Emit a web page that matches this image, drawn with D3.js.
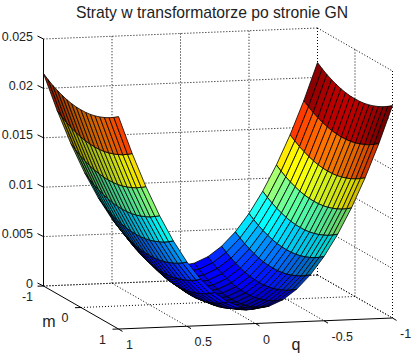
<!DOCTYPE html>
<html><head><meta charset="utf-8">
<script src="https://cdn.jsdelivr.net/npm/d3@7"></script>
<style>html,body{margin:0;padding:0;background:#fff}svg{display:block}text{font-family:"Liberation Sans",Arial,sans-serif;fill:#222}</style>
</head><body><svg id="c" width="416" height="359"></svg>
<script>
const titleText = "Straty w transformatorze po stronie GN";
const qValues = [-1,-0.9,-0.8,-0.7,-0.6,-0.5,-0.4,-0.3,-0.2,-0.1,0,0.1,0.2,0.3,0.4,0.5,0.6,0.7,0.8,0.9,1];
const mValues = [-1,-0.875,-0.75,-0.625,-0.5,-0.375,-0.25,-0.125,0,0.125,0.25,0.375,0.5,0.625,0.75,0.875,1];
// surface height read along the q direction (at m = 0)
const lossByQ = [0.0200,0.0162,0.0128,0.0098,0.0072,0.0050,0.0032,0.0018,0.0008,0.0002,0,0.0002,0.0008,0.0018,0.0032,0.0050,0.0072,0.0098,0.0128,0.0162,0.0200];
// extra height read along the m direction
const riseByM = [0.00150,0.00115,0.00084,0.00059,0.00038,0.00021,0.00009,0.00002,0,0.00002,0.00009,0.00021,0.00038,0.00059,0.00084,0.00115,0.00150];
const zTicks = [0,0.005,0.01,0.015,0.02,0.025];
const zTickLabels = ["0","0.005","0.01","0.015","0.02","0.025"];
const qTicks = [1,0.5,0,-0.5,-1];
const qTickLabels = ["1","0.5","0","-0.5","-1"];
const mTicks = [-1,0,1];
const mTickLabels = ["-1","0","1"];

const svg = d3.select("#c");
const qx = d3.scaleLinear([-1,1],[137,-137]), qy = d3.scaleLinear([-1,1],[-5.5,5.5]);
const mx = d3.scaleLinear([-1,1],[-37.5,37.5]), my = d3.scaleLinear([-1,1],[-21.5,21.5]);
const zy = d3.scaleLinear([0,0.025],[0,-247]);
const px = (q,m)=>218+qx(q)+mx(m);
const py = (q,m,z)=>302+qy(q)+my(m)+zy(z);
const P = (q,m,z)=>[px(q,m),py(q,m,z)];
const cMax = d3.max(lossByQ)+d3.max(riseByM);
const color = d3.scaleLinear([0,cMax],[0,1]);

function jet(t){
  const c = x=>Math.max(0,Math.min(1,x));
  return [c(Math.min(4*t-1.5,-4*t+4.5)), c(Math.min(4*t-0.5,-4*t+3.5)), c(Math.min(4*t+0.5,-4*t+2.5))];
}
function shade(q,m){
  const t = Math.max(-1,Math.min(1,(q-0.12)/0.35));
  const broad = 1+0.25*(1-Math.min(1,Math.abs(q)/0.5));
  const a = t>0 ? 1-0.24*t : 1-0.05*(-t);
  const b = t>0 ? 0.22*t : (q<-0.5 ? 0.15*t : 0.3*t);
  return broad*(a+b*m);
}
const line = d3.line();
const g = svg.append("g");

// walls and floor (dotted)
const dotted = (a,b)=>g.append("path").attr("d",line([a,b])).attr("fill","none").attr("stroke","#000").attr("stroke-width",1).attr("stroke-dasharray","1 2");
zTicks.forEach(z=>{ if(z>0){
  dotted(P(1,-1,z),P(-1,-1,z)); dotted(P(-1,-1,z),P(-1,1,z));
}});
dotted(P(1,-1,0),P(-1,-1,0)); dotted(P(-1,-1,0),P(-1,1,0));
qTicks.forEach(q=>{ if(q<1) dotted(P(q,-1,0),P(q,-1,0.025)); if(q<1) dotted(P(q,-1,0),P(q,1,0)); });
mTicks.forEach(m=>{ dotted(P(-1,m,0),P(-1,m,0.025)); if(m<1) dotted(P(1,m,0),P(-1,m,0)); });

// axes (solid)
const solid = (a,b)=>g.append("path").attr("d",line([a,b])).attr("fill","none").attr("stroke","#000").attr("stroke-width",1);
solid(P(1,-1,0),P(1,-1,0.025)); solid(P(1,-1,0),P(1,1,0)); solid(P(1,1,0),P(-1,1,0));
zTicks.forEach(z=>{const a=P(1,-1,z); solid(a,[a[0]-6,a[1]-3]);});
qTicks.forEach(q=>{const a=P(q,1,0); solid(a,[a[0]+4,a[1]+2.4]);});
mTicks.forEach(m=>{const a=P(1,m,0); solid(a,[a[0]-6,a[1]+0.2]);});

// surface: far cells first (m ascending, q ascending)
const surf = g.append("g");
const cells=[];
mValues.slice(0,-1).forEach((m,j)=>qValues.slice(0,-1).forEach((q,i)=>cells.push({i,j})));
surf.selectAll("path").data(cells).join("path")
 .attr("d",d=>{
   const Z=(a,b)=>lossByQ[a]+riseByM[b], a=d.i,b=d.j;
   return line([P(qValues[a],mValues[b],Z(a,b)),P(qValues[a+1],mValues[b],Z(a+1,b)),P(qValues[a+1],mValues[b+1],Z(a+1,b+1)),P(qValues[a],mValues[b+1],Z(a,b+1))])+"Z";
 })
 .attr("fill",d=>{
   const c=jet(color(lossByQ[d.i]+riseByM[d.j])), s=shade(qValues[d.i]+0.05,mValues[d.j]+0.06);
   return d3.rgb(Math.min(255,c[0]*255*s),Math.min(255,c[1]*255*s),Math.min(255,c[2]*255*s)).formatHex();
 })
 .attr("stroke","#000").attr("stroke-width",0.8).attr("stroke-linejoin","round");

// text
svg.append("text").attr("x",212).attr("y",17.5).attr("text-anchor","middle").attr("font-size",15.7).text(titleText);
const lab=(x,y,t,a,s)=>svg.append("text").attr("x",x).attr("y",y).attr("text-anchor",a).attr("font-size",s||12.5).text(t);
zTicks.forEach((z,i)=>lab(33,P(1,-1,z)[1]+1.5,zTickLabels[i],"end"));
mTicks.forEach((m,i)=>{const a=P(1,m,0); lab(a[0]-16,a[1]+14.5,mTickLabels[i],"middle");});
qTicks.forEach((q,i)=>{const a=P(q,1,0); lab(a[0]+7.5,a[1]+20,qTickLabels[i],"start");});
lab(49,327,"m","middle",16);
lab(296,350,"q","middle",16);
</script></body></html>
